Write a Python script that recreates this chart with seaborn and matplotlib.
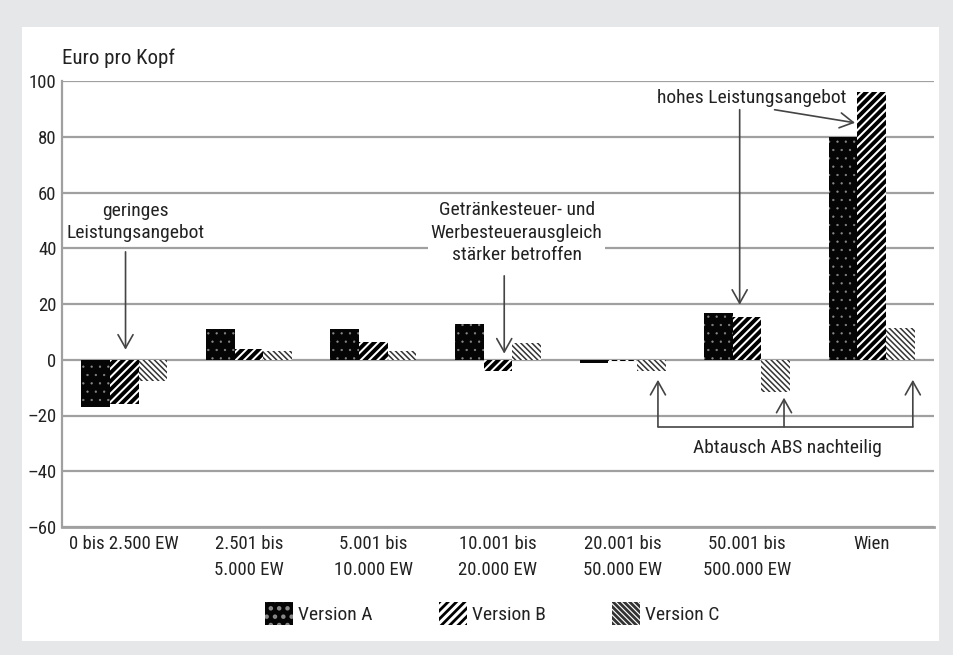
import matplotlib
matplotlib.use("Agg")
import matplotlib.pyplot as plt
from matplotlib.patches import Rectangle, Patch
from matplotlib import font_manager
import seaborn as sns
import pandas as pd
import numpy as np

categories = ["0 bis 2.500 EW", "2.501 bis\n5.000 EW", "5.001 bis\n10.000 EW",
              "10.001 bis\n20.000 EW", "20.001 bis\n50.000 EW",
              "50.001 bis\n500.000 EW", "Wien"]
series_names = ["Version A", "Version B", "Version C"]
version_a = [-17, 11, 11, 13, -1, 16.7, 80]
version_b = [-16, 4, 6.5, -4.2, -0.5, 15.3, 96]
version_c = [-7.5, 3, 3, 6, -4.2, -11.4, 11.5]
y_ticks = [-60, -40, -20, 0, 20, 40, 60, 80, 100]

sns.set_theme(style="white")
names = {f.name for f in font_manager.fontManager.ttflist}
fam = [n for n in ["Liberation Sans Narrow", "Arial Narrow", "Roboto Condensed",
                   "DejaVu Sans Condensed"] if n in names]
plt.rcParams['font.family'] = fam + ['DejaVu Sans']
plt.rcParams['font.stretch'] = 'condensed'
plt.rcParams['hatch.linewidth'] = 2.0

df = pd.DataFrame({
    "Kategorie": categories * 3,
    "Version": sum([[n] * len(categories) for n in series_names], []),
    "Wert": version_a + version_b + version_c,
})

W, H = 954, 655
fig = plt.figure(figsize=(W / 100, H / 100), dpi=100)
fig.patch.set_facecolor("#e6e7e9")
fig.patches.append(Rectangle((22 / W, 1 - 641 / H), (939 - 22) / W, (641 - 27) / H,
                             transform=fig.transFigure, facecolor="white",
                             edgecolor="none", zorder=-10))

ax = fig.add_axes([62 / W, 1 - 527 / H, (934 - 62) / W, (527 - 81) / H])
ax.set_facecolor("none")

sns.barplot(data=df, x="Kategorie", y="Wert", hue="Version", order=categories,
            hue_order=series_names, width=0.69, dodge=True, ax=ax,
            palette=["black", "white", "white"], legend=False, saturation=1)

styles = [
    dict(face="#050505", hatch="..", hatchcolor="#8a8a8a", hlw=0.4),
    dict(face="white", hatch="////", hatchcolor="black", hlw=2.8),
    dict(face="white", hatch="\\" * 6, hatchcolor="#333333", hlw=1.1),
]


def style_patch(p, st):
    p.set_facecolor(st["face"])
    p.set_hatch(st["hatch"])
    p.set_edgecolor(st["hatchcolor"])
    p.set_linewidth(0)
    if hasattr(p, "set_hatch_linewidth"):
        p.set_hatch_linewidth(st["hlw"])


for cont, st in zip(ax.containers, styles):
    for bar in cont:
        style_patch(bar, st)
        bar.set_zorder(3)

ax.set_ylim(-60, 100)
ax.set_xlim(-0.5, 6.5)
ax.set_yticks(y_ticks)
ax.set_yticklabels([("\u2013" + str(-v)) if v < 0 else str(v) for v in y_ticks])
ax.yaxis.grid(True, color="#a0a0a0", linewidth=1.6, zorder=1)
ax.set_axisbelow(True)
for s in ["top", "right"]:
    ax.spines[s].set_visible(False)
ax.spines["left"].set_color("#a0a0a0")
ax.spines["left"].set_linewidth(1.6)
ax.spines["bottom"].set_color("#a0a0a0")
ax.spines["bottom"].set_linewidth(2.0)
ax.tick_params(axis="both", length=0, labelsize=13.5, colors="#222222", pad=6)
ax.tick_params(axis="y", pad=4)
ax.set_xlabel("")
ax.set_ylabel("")
for lbl in ax.get_xticklabels():
    lbl.set_verticalalignment("top")
    lbl.set_linespacing(1.55)

fig.text(62 / W, 1 - 58 / H, "Euro pro Kopf", fontsize=15, va="center",
         ha="left", color="#222222")

arrow_kw = dict(arrowstyle="->,head_length=0.8,head_width=0.45", color="#444444",
                lw=1.2, shrinkA=0, shrinkB=0)
txt_kw = dict(fontsize=14, color="#222222", ha="center", va="center",
              linespacing=1.3)

# geringes Leistungsangebot
ax.text(0.09, 49.5, "geringes\nLeistungsangebot", **txt_kw)
ax.annotate("", xy=(0.01, 3.6), xytext=(0.01, 38.7), arrowprops=arrow_kw)

# Getränkesteuer
ax.text(3.15, 45.6, "Getränkesteuer- und\nWerbesteuerausgleich\nstärker betroffen",
        bbox=dict(facecolor="white", edgecolor="none", pad=2), zorder=4, **txt_kw)
ax.annotate("", xy=(3.05, 2.2), xytext=(3.05, 30.1), arrowprops=arrow_kw)

# hohes Leistungsangebot
ax.text(5.04, 94, "hohes Leistungsangebot", **txt_kw)
ax.annotate("", xy=(4.94, 19.7), xytext=(4.94, 89.7), arrowprops=arrow_kw)
ax.annotate("", xy=(5.866, 85), xytext=(5.22, 89.7), arrowprops=arrow_kw)

# Abtausch ABS nachteilig
ax.plot([4.284, 6.33], [-24, -24], color="#444444", lw=1.2, zorder=4)
for xx, yy in [(4.284, -7.2), (5.296, -13.6), (6.33, -7.2)]:
    ax.annotate("", xy=(xx, yy), xytext=(xx, -24), arrowprops=arrow_kw)
ax.text(5.32, -31.6, "Abtausch ABS nachteilig", **txt_kw)

handles = []
for st in styles:
    hp = Patch()
    style_patch(hp, st)
    handles.append(hp)
leg = fig.legend(handles, series_names, loc="center", bbox_to_anchor=(0.516, 1 - 613.5 / H),
                 ncol=3, frameon=False, fontsize=14, handlelength=1.45, handleheight=1.45,
                 columnspacing=3.4, handletextpad=0.25, borderpad=0, borderaxespad=0)
for t in leg.get_texts():
    t.set_color("#222222")

fig.savefig("out.png", dpi=100, facecolor=fig.get_facecolor())
